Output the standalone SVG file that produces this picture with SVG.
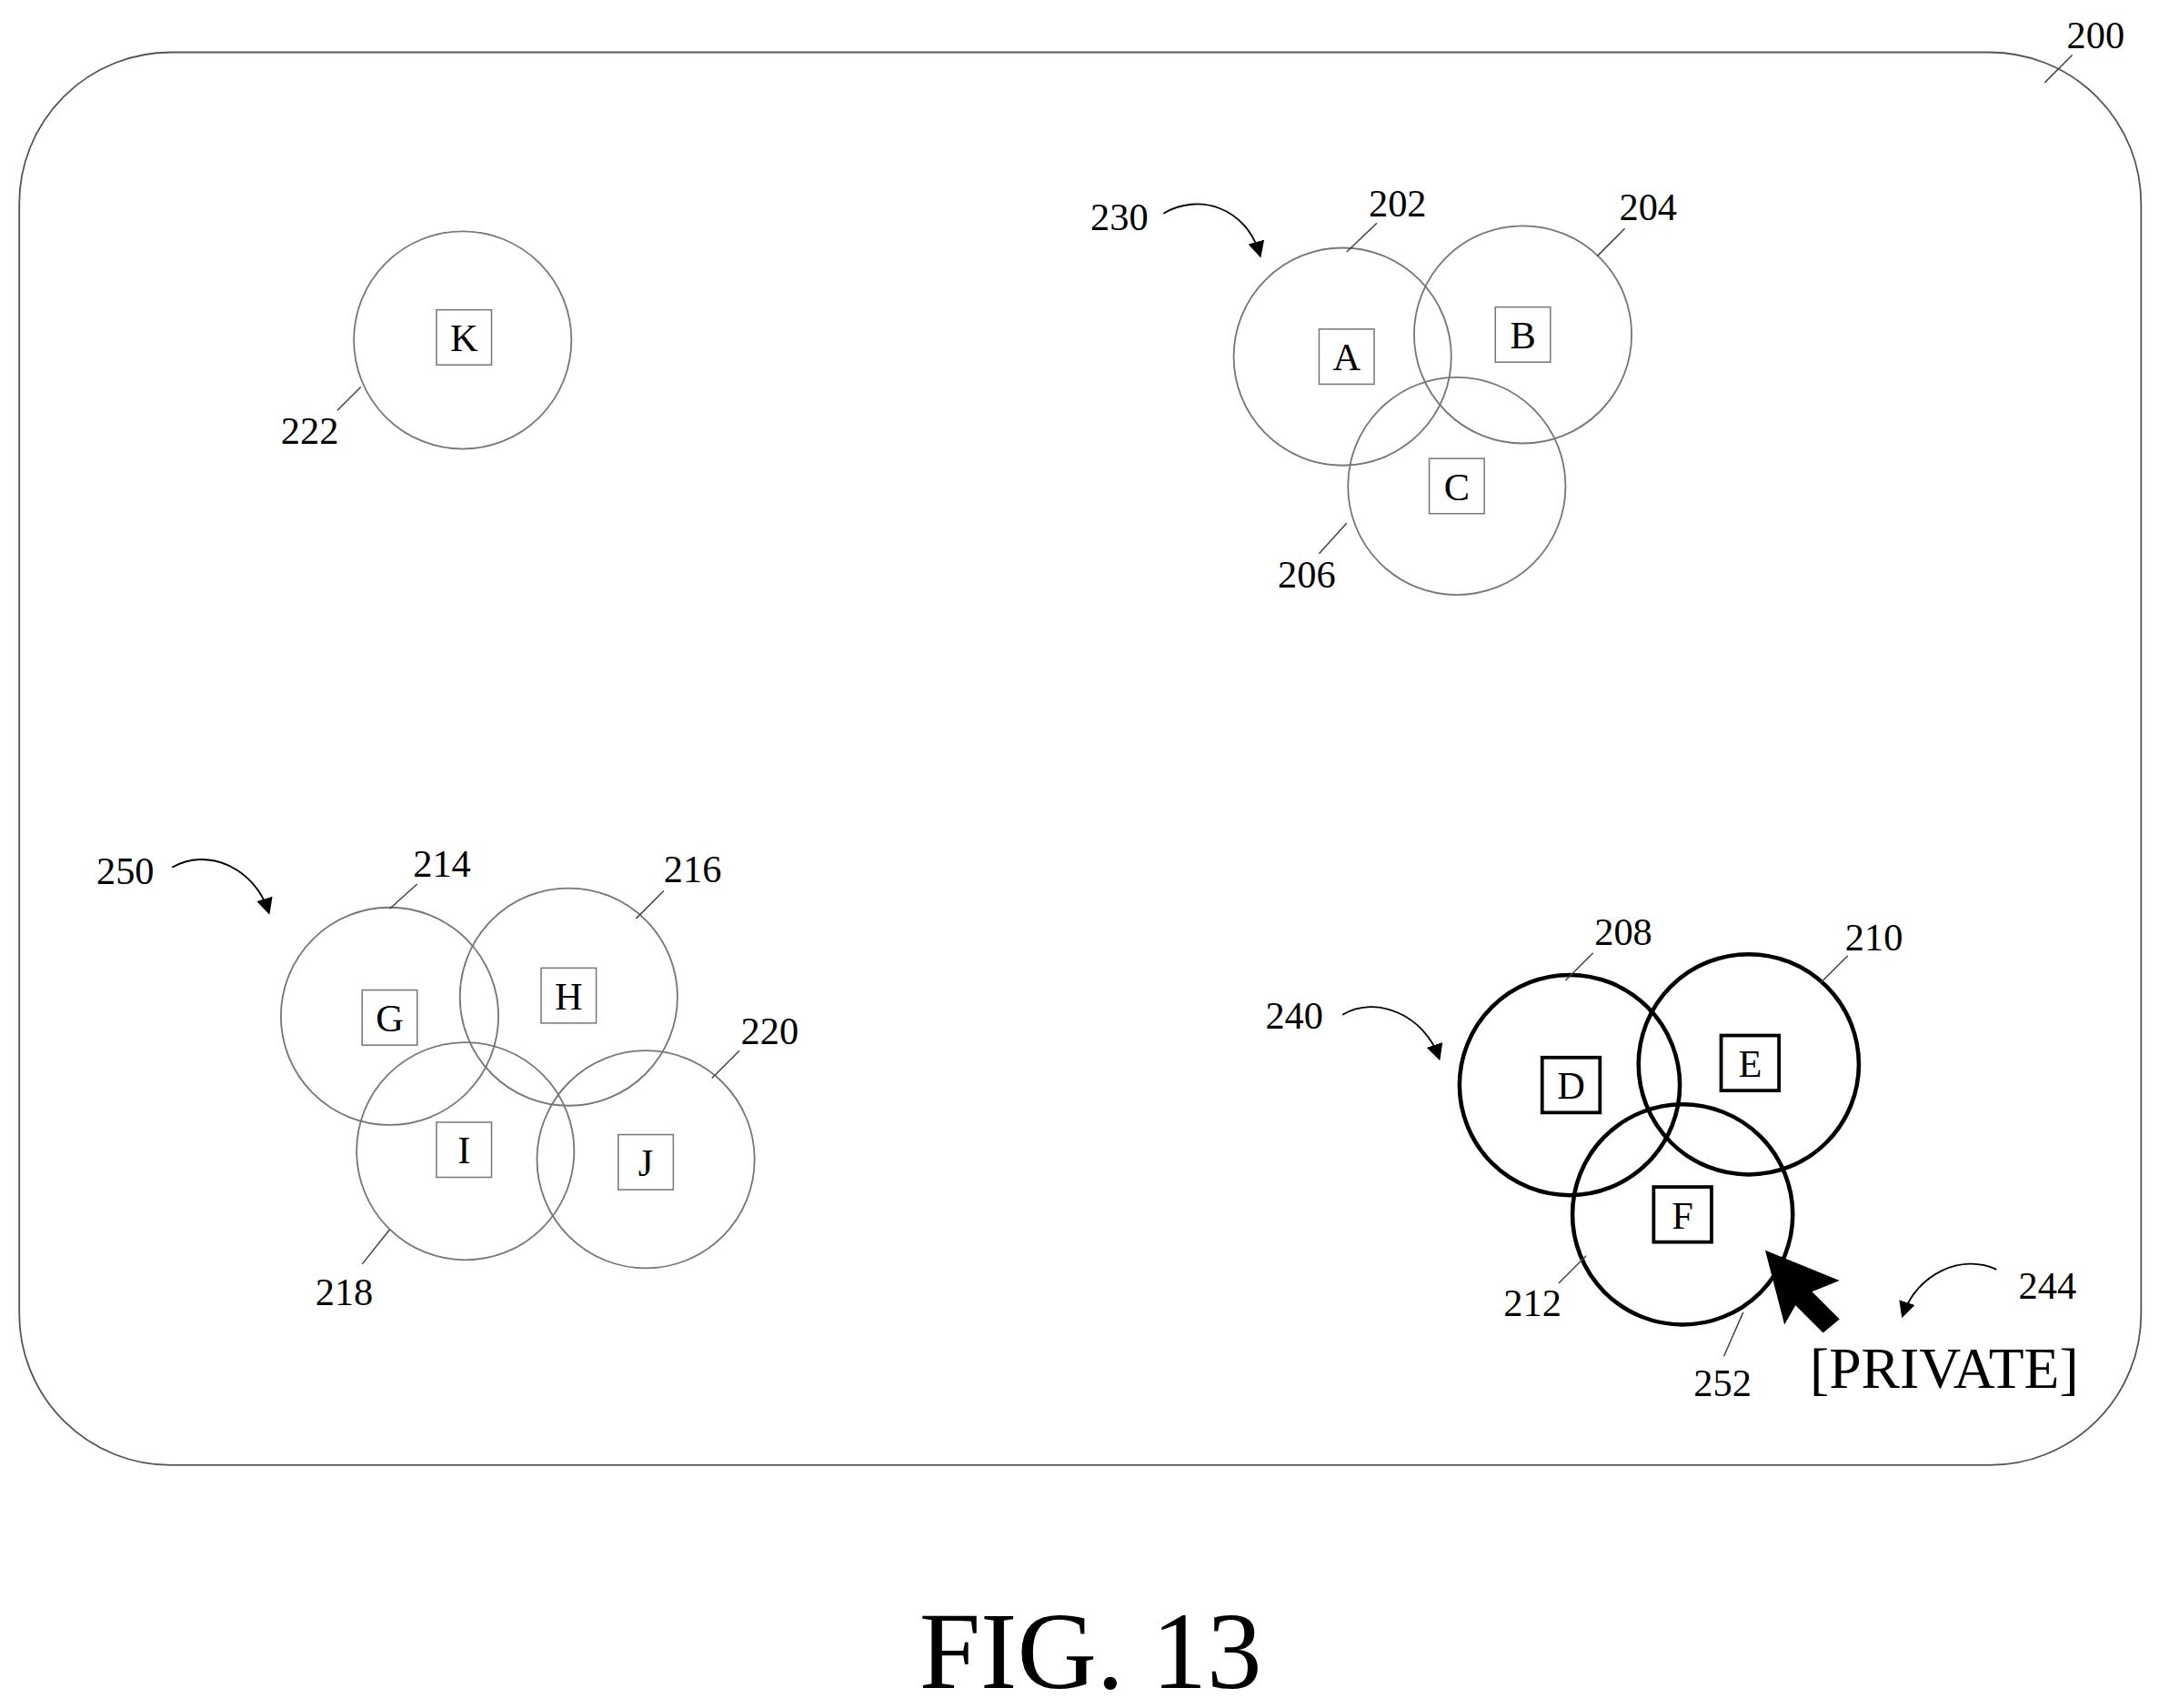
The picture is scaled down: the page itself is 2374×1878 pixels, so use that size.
<svg xmlns="http://www.w3.org/2000/svg" width="2374" height="1878" viewBox="0 0 2374 1878">
<style>
.c{fill:none;stroke:#777;stroke-width:1.2}
.t{fill:none;stroke:#000;stroke-width:3}
.b{fill:#fff;stroke:#777;stroke-width:1}
.bt{fill:#fff;stroke:#000;stroke-width:2.5}
.l{fill:none;stroke:#444;stroke-width:1}
text{font-family:"Liberation Serif",serif;fill:#000}
.n{font-size:28px}
.k{font-size:28px;text-anchor:middle}
</style>
<defs><marker id="ah" viewBox="0 0 10 10" refX="8" refY="5" markerWidth="10" markerHeight="10" orient="auto"><path d="M0,0L10,5L0,10z" fill="#000"/></marker></defs>
<rect width="2374" height="1878" fill="#fff"/>
<g transform="scale(1.51403)">
<rect x="14" y="38" width="1541" height="1026" rx="110" fill="none" stroke="#555" stroke-width="1.2"/>
<g id="nK"><circle class="c" cx="336" cy="247" r="79"/><rect class="b" x="317" y="225" width="40" height="40"/><text class="k" x="337" y="255">K</text></g>
<g id="nA"><circle class="c" cx="975" cy="259" r="79"/><rect class="b" x="958" y="239" width="40" height="40"/><text class="k" x="978" y="269">A</text></g>
<g id="nB"><circle class="c" cx="1106" cy="243" r="79"/><rect class="b" x="1086" y="223" width="40" height="40"/><text class="k" x="1106" y="253">B</text></g>
<g id="nC"><circle class="c" cx="1058" cy="353" r="79"/><rect class="b" x="1038" y="333" width="40" height="40"/><text class="k" x="1058" y="363">C</text></g>
<g id="nG"><circle class="c" cx="283" cy="738" r="79"/><rect class="b" x="263" y="719" width="40" height="40"/><text class="k" x="283" y="749">G</text></g>
<g id="nH"><circle class="c" cx="413" cy="724" r="79"/><rect class="b" x="393" y="703" width="40" height="40"/><text class="k" x="413" y="733">H</text></g>
<g id="nI"><circle class="c" cx="338" cy="836" r="79"/><rect class="b" x="317" y="815" width="40" height="40"/><text class="k" x="337" y="845">I</text></g>
<g id="nJ"><circle class="c" cx="469" cy="842" r="79"/><rect class="b" x="449" y="824" width="40" height="40"/><text class="k" x="469" y="854">J</text></g>
<g id="nD"><circle class="t" cx="1140" cy="788" r="80"/><rect class="bt" x="1120" y="768" width="42" height="40"/><text class="k" x="1141" y="798">D</text></g>
<g id="nE"><circle class="t" cx="1270" cy="773" r="80"/><rect class="bt" x="1250" y="752" width="42" height="40"/><text class="k" x="1271" y="782">E</text></g>
<g id="nF"><circle class="t" cx="1222" cy="882" r="80"/><rect class="bt" x="1201" y="862" width="42" height="40"/><text class="k" x="1222" y="892">F</text></g>
<g id="connectors">
<path class="l" d="M1485,60L1505,40M978,183L1000,162M1160,186L1180,166M978,380L958,402M262,281L245,298M283,660L303,642M462,667L482,647M517,783L537,763M283,893L263,918M1137,712L1157,692M1322,714L1342,694M1152,912L1132,932M1266,953L1252,985"/>
<path d="M845,155C870,140 905,150 915,185" fill="none" stroke="#000" stroke-width="1.2" marker-end="url(#ah)"/>
<path d="M125,630C150,615 185,630 195,662" fill="none" stroke="#000" stroke-width="1.2" marker-end="url(#ah)"/>
<path d="M975,737C1000,722 1035,738 1045,768" fill="none" stroke="#000" stroke-width="1.2" marker-end="url(#ah)"/>
<path d="M1450,922C1425,910 1392,925 1382,955" fill="none" stroke="#000" stroke-width="1.2" marker-end="url(#ah)"/>
<polygon points="1282,908 1336,930 1316,938 1336,958 1324,968 1304,948 1296,962" fill="#000"/>
</g>
<g class="n">
<text x="1501" y="35">200</text><text x="994" y="157">202</text><text x="1176" y="160">204</text><text x="928" y="427">206</text><text x="204" y="322">222</text><text x="792" y="167">230</text><text x="300" y="637">214</text><text x="482" y="641">216</text><text x="538" y="758">220</text><text x="229" y="948">218</text><text x="70" y="642">250</text><text x="1158" y="686">208</text><text x="1340" y="690">210</text><text x="919" y="747">240</text><text x="1092" y="956">212</text><text x="1230" y="1014">252</text><text x="1466" y="943">244</text>
</g>
<text x="1412" y="1008" font-size="42" text-anchor="middle">[PRIVATE]</text>
<text x="792" y="1226" font-size="80" text-anchor="middle">FIG. 13</text>
</g>
</svg>
